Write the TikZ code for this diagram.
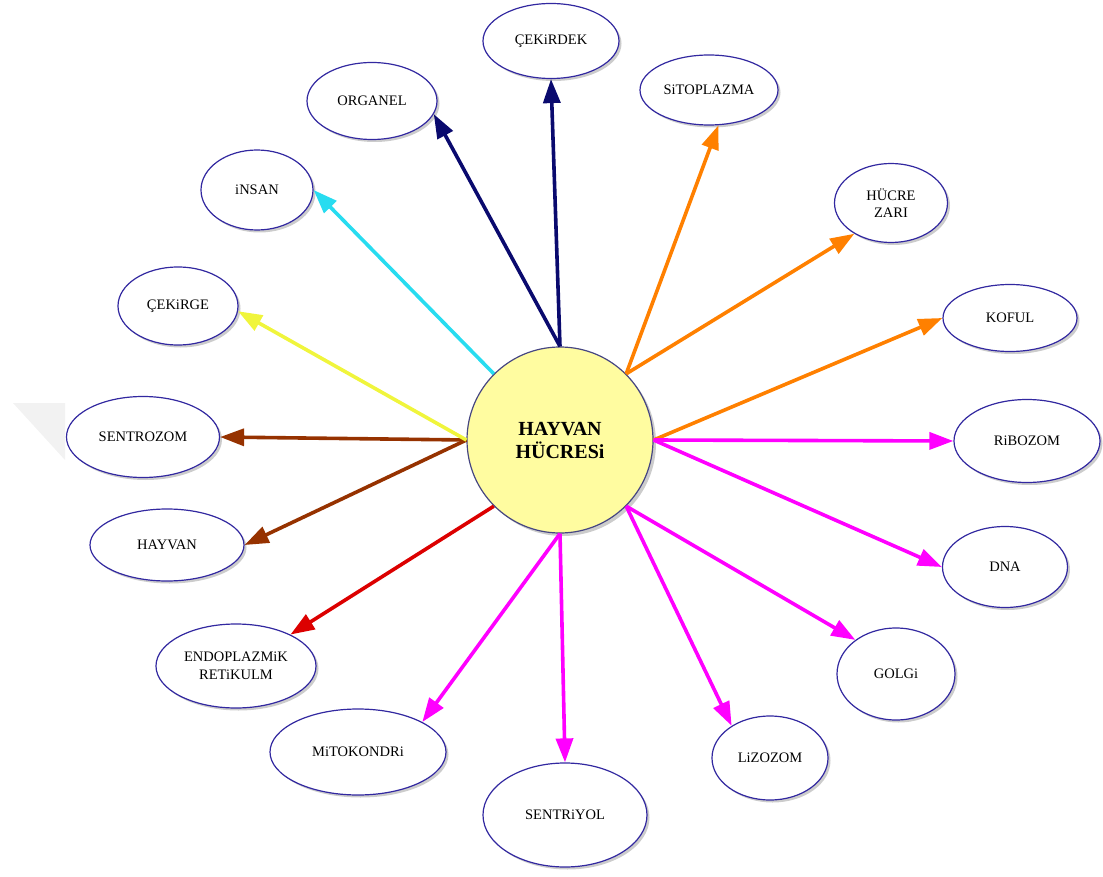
\documentclass[tikz,border=0pt]{standalone}
\usepackage{fontspec}
\setmainfont{Liberation Serif}
\usetikzlibrary{shapes.geometric,arrows.meta,shadows}
\definecolor{navyc}{RGB}{10,10,110}
\definecolor{orangec}{RGB}{255,128,0}
\definecolor{magc}{RGB}{255,0,255}
\definecolor{redc}{RGB}{220,0,0}
\definecolor{brownc}{RGB}{150,50,0}
\definecolor{yellowc}{RGB}{240,245,60}
\definecolor{cyanc}{RGB}{40,220,240}
\definecolor{ebord}{RGB}{50,40,160}
\definecolor{cfill}{RGB}{255,252,160}
\definecolor{cbord}{RGB}{70,70,130}
\begin{document}
\begin{tikzpicture}[x=1pt,y=-1pt,
  leaf/.style={ellipse,draw=ebord,line width=1.2pt,fill=white,inner sep=0pt,
     align=center,font=\fontsize{14.5}{17.5}\selectfont,
     drop shadow={shadow xshift=2.5pt,shadow yshift=-2.5pt,opacity=0.4,fill=gray}},
  hub/.style={circle,draw=cbord,line width=1.2pt,fill=cfill,minimum size=186pt,inner sep=0pt,
     align=center,font=\fontsize{20}{23}\selectfont\bfseries,
     drop shadow={shadow xshift=3pt,shadow yshift=-3pt,opacity=0.4,fill=gray}},
  conn/.style={line width=3.6pt,-{Triangle[length=24pt,width=17pt]}}
]
\useasboundingbox (0,0) rectangle (1103,877);
\fill[gray!10] (13,403) -- (65,403) -- (65,460) -- cycle;

\node[hub] (c) at (560,440) {HAYVAN\\HÜCRESi};

\node[leaf,minimum width=136pt,minimum height=75pt] (cekirdek) at (551,41) {ÇEKiRDEK};
\node[leaf,minimum width=130pt,minimum height=77pt] (organel) at (372,101) {ORGANEL};
\node[leaf,minimum width=138pt,minimum height=70pt] (sitoplazma) at (709,90) {SiTOPLAZMA};
\node[leaf,minimum width=113pt,minimum height=79pt] (zar) at (891,203) {HÜCRE\\ZARI};
\node[leaf,minimum width=134pt,minimum height=67pt] (koful) at (1010,318) {KOFUL};
\node[leaf,minimum width=146pt,minimum height=83pt] (ribozom) at (1027,441) {RiBOZOM};
\node[leaf,minimum width=125pt,minimum height=81pt] (dna) at (1005,567) {DNA};
\node[leaf,minimum width=118pt,minimum height=92pt] (golgi) at (896,674) {GOLGi};
\node[leaf,minimum width=116pt,minimum height=84pt] (lizozom) at (770,758) {LiZOZOM};
\node[leaf,minimum width=164pt,minimum height=104pt] (sentriyol) at (565,815) {SENTRiYOL};
\node[leaf,minimum width=176pt,minimum height=86pt] (mitokondri) at (358,752) {MiTOKONDRi};
\node[leaf,minimum width=160pt,minimum height=84pt] (er) at (236,666) {ENDOPLAZMiK\\RETiKULM};
\node[leaf,minimum width=154pt,minimum height=72pt] (hayvan) at (167,545) {HAYVAN};
\node[leaf,minimum width=153pt,minimum height=81pt] (sentrozom) at (143,437) {SENTROZOM};
\node[leaf,minimum width=120pt,minimum height=78pt] (cekirge) at (178,306) {ÇEKiRGE};
\node[leaf,minimum width=112pt,minimum height=80pt] (insan) at (257,190) {iNSAN};

\draw[conn,navyc] (c.north) -- (organel.-12);
\draw[conn,navyc] (c.north) -- (cekirdek.south);
\draw[conn,orangec] (c.45) -- (sitoplazma.-75);
\draw[conn,orangec] (c.45) -- (zar.-140);
\draw[conn,orangec] (c.east) -- (koful.west);
\draw[conn,magc] (c.east) -- (ribozom.west);
\draw[conn,magc] (c.east) -- (dna.west);
\draw[conn,magc] (c.-45) -- (golgi.140);
\draw[conn,magc] (c.-45) -- (lizozom.140);
\draw[conn,magc] (c.south) -- (sentriyol.north);
\draw[conn,magc] (c.south) -- (mitokondri.25);
\draw[conn,redc] (c.-135) -- (er.30);
\draw[conn,brownc] (c.west) -- (hayvan.east);
\draw[conn,brownc] (c.west) -- (sentrozom.east);
\draw[conn,yellowc] (c.west) -- (cekirge.-5);
\draw[conn,cyanc] (c.135) -- (insan.east);
\end{tikzpicture}
\end{document}
